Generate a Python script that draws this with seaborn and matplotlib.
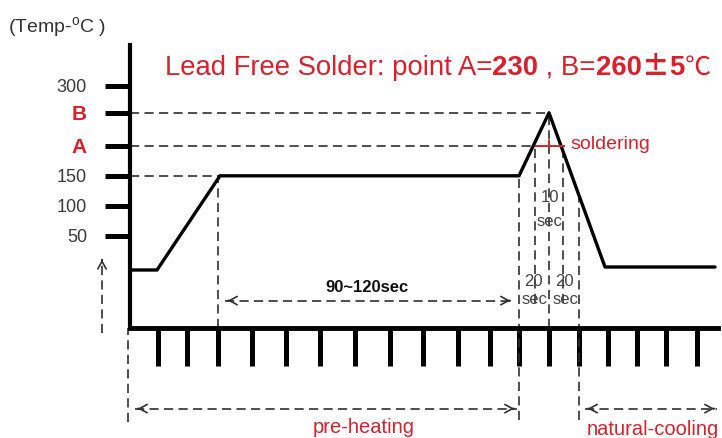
import matplotlib.pyplot as plt
import seaborn as sns
import pandas as pd

# Perfil de soldadura (esquema): tiempo en unidades del dibujo, temperatura en la escala del dibujo
profile_time = [0, 27, 90, 389, 419, 475, 585]
profile_temp = [-7, -7, 150, 150, 255, -2, -2]

temp_ticks = [50, 100, 150, 200, 255, 300]
temp_labels = ['50', '100', '150', 'A', 'B', '300']
time_ticks = [28, 57, 88, 122, 156, 190, 225, 260, 293, 328, 360, 389,
              419, 449, 478, 507, 536, 567]

point_a = 200
point_b = 255
preheat_temp = 150
t_preheat, t_solder_in, t_peak, t_solder_out, t_cool = 88, 389, 419, 433, 449
t_a_in = 405

RED = '#d9202c'
DARK = '#303030'
DASH = (0, (5.5, 3.2))

sns.set_style('white')
plt.rcParams['font.family'] = ['Liberation Sans', 'DejaVu Sans']
plt.rcParams['mathtext.fontset'] = 'custom'
plt.rcParams['mathtext.rm'] = 'Liberation Sans'

fig = plt.figure(figsize=(7.22, 4.38), dpi=100)
ax = fig.add_axes([0, 0, 1, 1])
ax.set_xlim(-130, 592)
ax.set_ylim(-287, 443)

df = pd.DataFrame({'time': profile_time, 'temp': profile_temp})
sns.lineplot(data=df, x='time', y='temp', sort=False, estimator=None,
             color='black', lw=2.4, ax=ax, zorder=5)

# ejes
for s in ['top', 'right']:
    ax.spines[s].set_visible(False)
ax.spines['left'].set_position(('data', 0))
ax.spines['bottom'].set_position(('data', -103))
ax.spines['left'].set_bounds(-103, 368)
ax.spines['bottom'].set_bounds(0, 588)
ax.spines['left'].set_linewidth(3)
ax.spines['bottom'].set_linewidth(3.5)
ax.spines['left'].set_color('black')
ax.spines['bottom'].set_color('black')

ax.set_yticks(temp_ticks)
ax.set_yticklabels(temp_labels)
ax.tick_params(axis='y', direction='out', length=18, width=3.6, pad=13,
               labelsize=13, labelcolor='#3a3a3a', left=True, color='black')
for lab in ax.get_yticklabels():
    if lab.get_text() in ('A', 'B'):
        lab.set_color(RED)
        lab.set_fontweight('bold')
        lab.set_fontsize(15)
ax.set_xticks(time_ticks)
ax.set_xticklabels([])
ax.tick_params(axis='x', direction='out', length=27, width=3.6, bottom=True,
               color='black')
ax.set_xlabel('')
ax.set_ylabel('')

# guias discontinuas horizontales
ax.hlines([point_b, point_a, preheat_temp], 0, [t_peak, t_a_in, t_preheat + 2],
          colors=DARK, linestyles=[DASH], lw=1.2)

# guias verticales
ax.vlines(t_preheat, -103, preheat_temp, colors=DARK, linestyles=[DASH], lw=1.2)
ax.vlines(t_solder_in, -257, preheat_temp, colors=DARK, linestyles=[DASH], lw=1.2)
ax.vlines([t_a_in, t_solder_out], -62, point_a, colors=DARK, linestyles=[DASH], lw=1.2)
ax.vlines(t_peak, -103, point_b, colors=DARK, linestyles=[DASH], lw=1.2)
ax.vlines(t_cool, -257, 118, colors=DARK, linestyles=[DASH], lw=1.2)
ax.vlines(-2, -260, -103, colors=DARK, linestyles=[DASH], lw=1.2)
ax.vlines(-28, -112, 12, colors=DARK, linestyles=[DASH], lw=1.2)

# zona de soldadura
ax.hlines(point_a, t_a_in, t_solder_out + 2, colors=RED, lw=1.4, zorder=6)
ax.vlines(t_peak, point_a, point_a + 10, colors=RED, lw=1.4, zorder=6)
ax.text(440, 202, 'soldering', color=RED, fontsize=14, va='center', ha='left')


def dashed_arrow(x0, x1, y, left=True, right=True):
    ax.hlines(y, x0, x1, colors=DARK, linestyles=[DASH], lw=1.2)
    head = dict(arrowstyle='->,head_length=0.55,head_width=0.3', color=DARK, lw=1.2)
    if left:
        ax.annotate('', xy=(x0, y), xytext=(x0 + 6, y), arrowprops=head)
    if right:
        ax.annotate('', xy=(x1, y), xytext=(x1 - 6, y), arrowprops=head)


dashed_arrow(95, 383, -58)
dashed_arrow(5, 387, -238)
dashed_arrow(455, 587, -238)
ax.annotate('', xy=(-28, 15), xytext=(-28, 5),
            arrowprops=dict(arrowstyle='->,head_length=0.55,head_width=0.3',
                            color=DARK, lw=1.2))

# textos
ax.text(237, -43, '90~120sec', fontsize=12, fontweight='bold', ha='center',
        va='baseline', color='#111111')
ax.text(234, -278, 'pre-heating', fontsize=14.5, color=RED, ha='center', va='baseline')
ax.text(457, -282, 'natural-cooling', fontsize=14.5, color=RED, ha='left', va='baseline')

small = dict(fontsize=12, color='#444444', ha='center', va='center')
ax.text(t_peak + 1, 113, '10', **small)
ax.text(t_peak + 1, 73, 'sec', **small)
for xc in (403, 434):
    ax.text(xc, -27, '20', **small)
    ax.text(xc + 2, -57, 'sec', **small)

ax.text(-122, 388, '(Temp-$^{\\mathrm{o}}$C )', fontsize=14, color='#333333',
        ha='left', va='baseline')

# titulo con partes en negrita
FS = 19.8
t1 = ax.text(35, 318, 'Lead Free Solder: point A=', fontsize=FS, color=RED,
             ha='left', va='baseline')
t2 = ax.annotate('230', xy=(1, 318), xycoords=(t1, 'data'), fontsize=FS,
                 fontweight='bold', color=RED, ha='left', va='baseline')
t3 = ax.annotate(' , B=', xy=(1, 318), xycoords=(t2, 'data'), fontsize=FS,
                 color=RED, ha='left', va='baseline')
t4 = ax.annotate('260', xy=(1, 318), xycoords=(t3, 'data'), fontsize=FS,
                 fontweight='bold', color=RED, ha='left', va='baseline')
t5 = ax.annotate('\u00b1', xy=(1, 318), xycoords=(t4, 'data'), fontsize=FS,
                 fontweight='bold', color=RED, ha='left', va='baseline',
                 family=['Noto Sans CJK SC', 'DejaVu Sans'])
t6 = ax.annotate('5', xy=(1, 318), xycoords=(t5, 'data'), fontsize=FS,
                 fontweight='bold', color=RED, ha='left', va='baseline')
ax.annotate('\u2103', xy=(1, 318), xycoords=(t6, 'data'), fontsize=FS - 1,
            color=RED, ha='left', va='baseline',
            family=['Noto Sans CJK SC', 'DejaVu Sans'])

fig.savefig('out.png', dpi=100)
